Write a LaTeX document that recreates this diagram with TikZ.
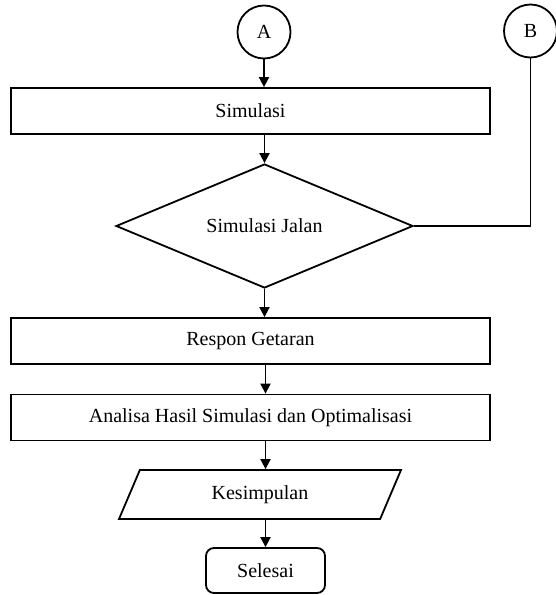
\documentclass[tikz,border=0pt]{standalone}
\usepackage{fontspec}
\setmainfont{Liberation Serif}
\usetikzlibrary{shapes.geometric,arrows.meta}
\begin{document}
\begin{tikzpicture}[x=1pt, y=-1pt, line width=1.8pt,
		font=\fontsize{20}{24}\selectfont,
		proc/.style={draw, rectangle, minimum width=479pt, minimum height=46pt, inner sep=0pt},
		conn/.style={draw, circle, minimum size=53pt, inner sep=0pt},
		cond/.style={draw, diamond, aspect=2.4, minimum width=297pt, minimum height=124pt, inner sep=0pt},
		io/.style={draw, trapezium, trapezium left angle=41, trapezium right angle=139, trapezium stretches body, minimum width=282pt, minimum height=49pt, inner sep=0pt},
		term/.style={draw, rectangle, rounded corners=8pt, minimum width=119pt, minimum height=45pt, inner sep=0pt},
		arr/.style={-{Triangle[length=10pt, width=10pt]}}]
		\useasboundingbox (0,0) rectangle (556,595);
		\node[conn] (A) at (264,32) {A};
		\node[conn] (B) at (530.5,31) {B};
		\node[proc] (Simulasi) at (250.5,111) {Simulasi};
		\node[cond] (Jalan) at (264.5,226) {Simulasi Jalan};
		\node[proc] (Respon) at (250.5,341) {Respon Getaran};
		\node[proc] (Analisa) at (250.5,417.5) {Analisa Hasil Simulasi dan Optimalisasi};
		\node[io] (Kesimpulan) at (260,494.5) {Kesimpulan};
		\node[term] (Selesai) at (265.5,570.5) {Selesai};
		% Arrows
		\draw[arr] (A.south) -- (A.south |- Simulasi.north);
		\draw[arr] (Jalan.north |- Simulasi.south) -- (Jalan.north);
		\draw[arr] (Jalan.south) -- (Jalan.south |- Respon.north);
		\draw[arr] (Selesai.north |- Respon.south) -- (Selesai.north |- Analisa.north);
		\draw[arr] (Selesai.north |- Analisa.south) -- (Selesai.north |- Kesimpulan.north);
		\draw[arr] (Selesai.north |- Kesimpulan.south) -- (Selesai.north);
		\draw[line width=1.2pt] (B.south) |- (Jalan.east);
	\end{tikzpicture}
\end{document}
